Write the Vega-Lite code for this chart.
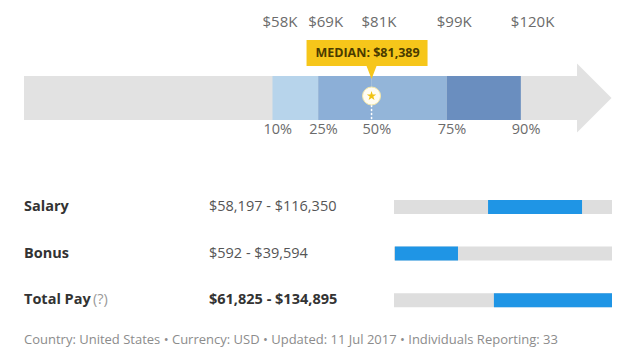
{
  "$schema": "https://vega.github.io/schema/vega-lite/v6.json",
  "padding": {"left": 24, "top": 0, "right": 0, "bottom": 0},
  "background": "white",
  "config": {"view": {"stroke": null}, "font": "Open Sans", "concat": {"spacing": 0}},
  "spacing": 0,
  "bounds": "flush",
  "title": {"text": "Country: United States • Currency: USD • Updated: 11 Jul 2017 • Individuals Reporting: 33", "orient": "bottom", "anchor": "start", "offset": 23, "fontSize": 13, "fontWeight": "normal", "color": "#8c8c8c", "font": "Open Sans"},
  "datasets": {
    "track": [{"start": 0, "end": 129500}],
    "segments": [
      {"band": "p10-p25", "from": 58197, "to": 68900},
      {"band": "p25-p50", "from": 68900, "to": 81389},
      {"band": "p50-p75", "from": 81389, "to": 99000},
      {"band": "p75-p90", "from": 99000, "to": 116350}
    ],
    "pct": [
      {"pct": "10%", "value": 58197, "label": "$58K"},
      {"pct": "25%", "value": 68900, "label": "$69K"},
      {"pct": "50%", "value": 81389, "label": "$81K"},
      {"pct": "75%", "value": 99000, "label": "$99K"},
      {"pct": "90%", "value": 116350, "label": "$120K"}
    ],
    "median": [{"value": 81389, "text": "MEDIAN: $81,389"}],
    "table": [
      {"row": "Salary", "range": "$58,197 - $116,350", "low": 58197, "high": 116350},
      {"row": "Bonus", "range": "$592 - $39,594", "low": 592, "high": 39594},
      {"row": "Total Pay", "range": "$61,825 - $134,895", "low": 61825, "high": 134895, "note": "(?)"}
    ]
  },
  "vconcat": [
    {
      "width": 588,
      "height": 196,
      "layer": [
        {
          "data": {"name": "track"},
          "mark": {"type": "bar", "height": 44, "color": "#e2e2e2"},
          "encoding": {
            "x": {"field": "start", "type": "quantitative", "scale": {"domain": [0, 137700], "nice": false, "zero": false}, "axis": null},
            "x2": {"field": "end"}
          }
        },
        {
          "data": {"name": "track"},
          "mark": {"type": "point", "shape": "M0,-1L1,0L0,1Z", "size": 4761, "filled": true, "color": "#e2e2e2", "opacity": 1, "strokeWidth": 0},
          "encoding": {"x": {"field": "end", "type": "quantitative"}}
        },
        {
          "data": {"name": "segments"},
          "mark": {"type": "bar", "height": 44},
          "encoding": {
            "x": {"field": "from", "type": "quantitative"},
            "x2": {"field": "to"},
            "color": {"field": "band", "type": "nominal", "scale": {"domain": ["p10-p25", "p25-p50", "p50-p75", "p75-p90"], "range": ["#b7d4eb", "#8cafd7", "#93b5d9", "#6a8ebf"]}, "legend": null}
          }
        },
        {
          "data": {"name": "pct"},
          "mark": {"type": "text", "align": "left", "baseline": "middle", "dx": -10, "dy": -76, "fontSize": 15, "color": "#6b6b6b"},
          "encoding": {"x": {"field": "value", "type": "quantitative"}, "text": {"field": "label"}}
        },
        {
          "data": {"name": "pct"},
          "mark": {"type": "text", "align": "left", "baseline": "middle", "dx": -9, "dy": 32, "fontSize": 14.5, "color": "#6b6b6b"},
          "encoding": {"x": {"field": "value", "type": "quantitative"}, "text": {"field": "pct"}}
        },
        {
          "data": {"name": "median"},
          "mark": {"type": "point", "shape": "M-65,-58H56V-32H5L0,-19L-5,-32H-65Z", "size": 4, "filled": true, "color": "#f6c61a", "opacity": 1, "strokeWidth": 0},
          "encoding": {"x": {"field": "value", "type": "quantitative"}}
        },
        {
          "data": {"name": "median"},
          "mark": {"type": "text", "align": "center", "baseline": "middle", "dx": -4, "dy": -45, "fontSize": 12.5, "fontWeight": "bold", "color": "#4a3b00"},
          "encoding": {"x": {"field": "value", "type": "quantitative"}, "text": {"field": "text"}}
        },
        {
          "data": {"name": "median"},
          "mark": {"type": "point", "shape": "M0,7V22", "size": 4, "filled": false, "stroke": "#ffffff", "strokeWidth": 1.5, "strokeDash": [2, 2], "opacity": 1},
          "encoding": {"x": {"field": "value", "type": "quantitative"}}
        },
        {
          "data": {"name": "median"},
          "mark": {"type": "point", "shape": "circle", "size": 324, "filled": true, "fill": "#fffdf2", "stroke": "#f3e6a8", "strokeWidth": 1, "opacity": 1, "yOffset": -2},
          "encoding": {"x": {"field": "value", "type": "quantitative"}}
        },
        {
          "data": {"name": "median"},
          "mark": {"type": "point", "shape": "M0,-1L0.2245,-0.309L0.951,-0.309L0.363,0.118L0.588,0.809L0,0.382L-0.588,0.809L-0.363,0.118L-0.951,-0.309L-0.2245,-0.309Z", "size": 100, "filled": true, "color": "#f0c312", "opacity": 1, "strokeWidth": 0, "yOffset": -2},
          "encoding": {"x": {"field": "value", "type": "quantitative"}}
        }
      ]
    },
    {
      "spacing": 0,
      "bounds": "flush",
      "hconcat": [
        {
          "width": 185,
          "height": 115.2,
          "layer": [
            {
              "data": {"name": "table"},
              "mark": {"type": "text", "align": "left", "baseline": "middle", "fontSize": 14.5, "fontWeight": "bold", "color": "#333333"},
              "encoding": {
                "x": {"value": 0},
                "y": {"field": "row", "type": "nominal", "scale": {"type": "point", "domain": ["Salary", "Bonus", "Total Pay"], "padding": 0.236}, "axis": null},
                "text": {"field": "row"}
              }
            },
            {
              "data": {"name": "table"},
              "transform": [{"filter": "datum.note"}],
              "mark": {"type": "text", "align": "left", "baseline": "middle", "fontSize": 14.5, "color": "#9a9a9a", "dx": 69},
              "encoding": {
                "x": {"value": 0},
                "y": {"field": "row", "type": "nominal", "scale": {"type": "point", "domain": ["Salary", "Bonus", "Total Pay"], "padding": 0.236}, "axis": null},
                "text": {"field": "note"}
              }
            }
          ]
        },
        {
          "width": 185,
          "height": 115.2,
          "layer": [
            {
              "data": {"name": "table"},
              "transform": [{"filter": "!datum.note"}],
              "mark": {"type": "text", "align": "left", "baseline": "middle", "fontSize": 14.5, "color": "#555555"},
              "encoding": {
                "x": {"value": 0},
                "y": {"field": "row", "type": "nominal", "scale": {"type": "point", "domain": ["Salary", "Bonus", "Total Pay"], "padding": 0.236}, "axis": null},
                "text": {"field": "range"}
              }
            },
            {
              "data": {"name": "table"},
              "transform": [{"filter": "datum.note"}],
              "mark": {"type": "text", "align": "left", "baseline": "middle", "fontSize": 14.5, "fontWeight": "bold", "color": "#333333"},
              "encoding": {
                "x": {"value": 0},
                "y": {"field": "row", "type": "nominal", "scale": {"type": "point", "domain": ["Salary", "Bonus", "Total Pay"], "padding": 0.236}, "axis": null},
                "text": {"field": "range"}
              }
            }
          ]
        },
        {
          "width": 218,
          "height": 115.2,
          "layer": [
            {
              "data": {"name": "table"},
              "mark": {"type": "bar", "height": 14, "color": "#dedede"},
              "encoding": {
                "x": {"datum": 0, "type": "quantitative", "scale": {"domain": [0, 134895], "nice": false, "zero": false}, "axis": null},
                "x2": {"datum": 134895},
                "y": {"field": "row", "type": "nominal", "scale": {"type": "point", "domain": ["Salary", "Bonus", "Total Pay"], "padding": 0.236}, "axis": null}
              }
            },
            {
              "data": {"name": "table"},
              "mark": {"type": "bar", "height": 14, "color": "#1f95e5"},
              "encoding": {
                "x": {"field": "low", "type": "quantitative"},
                "x2": {"field": "high"},
                "y": {"field": "row", "type": "nominal", "scale": {"type": "point", "domain": ["Salary", "Bonus", "Total Pay"], "padding": 0.236}, "axis": null}
              }
            }
          ]
        }
      ]
    }
  ]
}
